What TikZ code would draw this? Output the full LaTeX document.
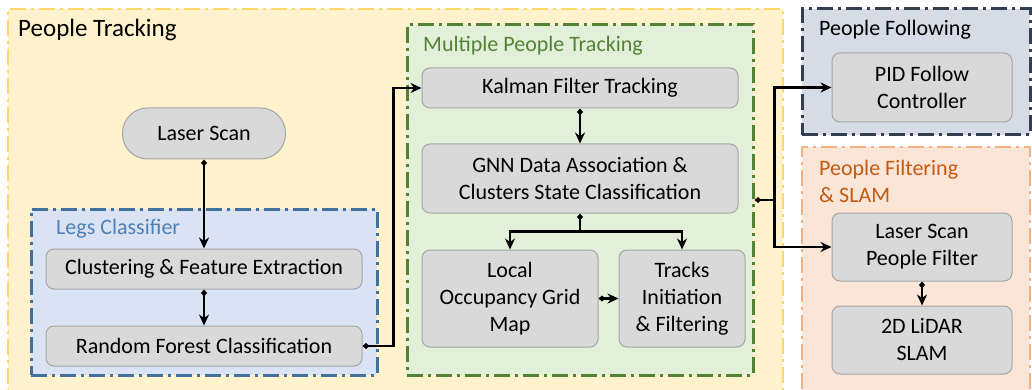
\documentclass[tikz,border=0pt]{standalone}
\usepackage{fontspec}
\setmainfont{Carlito}
\usetikzlibrary{arrows.meta}
\definecolor{jaune}{HTML}{FFF2CC}
\definecolor{jauneb}{HTML}{FFD966}
\definecolor{bleu}{HTML}{DAE3F3}
\definecolor{bleub}{HTML}{41719C}
\definecolor{bleut}{HTML}{4E80B6}
\definecolor{vert}{HTML}{E2F0D9}
\definecolor{vertb}{HTML}{548235}
\definecolor{ardoise}{HTML}{D6DCE5}
\definecolor{ardoiseb}{HTML}{333F50}
\definecolor{saumon}{HTML}{FBE5D6}
\definecolor{saumonb}{HTML}{F4B183}
\definecolor{orange}{HTML}{C55A11}
\definecolor{grisbloc}{HTML}{D9D9D9}
\definecolor{grisbord}{HTML}{A6A6A6}
\begin{document}
\begin{tikzpicture}[x=1pt,y=-1pt]  % une unite = un pixel
\tikzstyle{bloc}=[draw=grisbord, fill=grisbloc, rounded corners=8pt, line width=1pt, align=center, inner sep=2pt, font=\fontsize{22}{27}\selectfont]
\tikzstyle{groupe}=[rectangle, inner sep=0pt, line width=3pt, dash pattern=on 16pt off 5pt on 3pt off 5pt] % cadres en tirets-points
\tikzstyle{titre}=[anchor=base west, inner sep=0pt, align=left, font=\fontsize{22}{27}\selectfont]
\tikzstyle{lien}=[line width=2.5pt, {Diamond[length=7pt,width=6pt]}-{Stealth[length=11pt,width=10pt]}]
\useasboundingbox (0,0) rectangle (1032,390);
% les groupes
\node[groupe, draw=jauneb, fill=jaune, line width=2pt, minimum width=775pt, minimum height=382pt] (pt) at (395.5,200) {};
\node[groupe, draw=bleub, fill=bleu, minimum width=346pt, minimum height=166pt] (lc) at (204,292) {};
\node[groupe, draw=vertb, fill=vert, minimum width=346pt, minimum height=350pt] (mpt) at (580,200) {};
\node[groupe, draw=ardoiseb, fill=ardoise, minimum width=228pt, minimum height=126pt] (pf) at (916,72) {};
\node[groupe, draw=saumonb, fill=saumon, line width=2pt, minimum width=228pt, minimum height=246pt] (pfs) at (916,270) {};
% les titres
\node[titre, font=\fontsize{25}{30}\selectfont] (tpt) at (18,37) {People Tracking};
\node[titre, text=bleut] (tlc) at (56,234) {Legs Classifier};
\node[titre, text=vertb] (tmpt) at (423,52) {Multiple People Tracking};
\node[titre] (tpf) at (819,36) {People Following};
\node[titre, text=orange] (tpfs) at (819,202) {People Filtering\\\& SLAM}; % base = derniere ligne
% les blocs
\node[bloc, rounded corners=25pt, minimum width=163pt, minimum height=51pt] (scan) at (204,133.5) {Laser Scan};
\node[bloc, minimum width=316pt, minimum height=40pt] (clust) at (204,269) {Clustering \& Feature Extraction};
\node[bloc, minimum width=316pt, minimum height=40pt] (rf) at (204,346) {Random Forest Classification};
\node[bloc, minimum width=316pt, minimum height=40pt] (kal) at (580,88) {Kalman Filter Tracking};
\node[bloc, minimum width=316pt, minimum height=69pt] (gnn) at (580,178.5) {GNN Data Association \&\\Clusters State Classification};
\node[bloc, minimum width=176pt, minimum height=97pt] (occ) at (510,298.5) {Local\\Occupancy Grid\\Map};
\node[bloc, minimum width=126pt, minimum height=97pt] (trk) at (682,298.5) {Tracks\\Initiation\\\& Filtering};
\node[bloc, minimum width=180pt, minimum height=69pt] (pid) at (922,87.5) {PID Follow\\Controller};
\node[bloc, minimum width=180pt, minimum height=68pt] (lspf) at (922,247) {Laser Scan\\People Filter};
\node[bloc, minimum width=180pt, minimum height=68pt] (slam) at (922,340) {2D LiDAR\\SLAM};
% les liaisons
\draw[lien] (scan) -- (clust);
\draw[lien] (clust) -- (rf);
\draw[lien] (rf.east) -- ++(31,0) |- (kal.west);
\draw[lien] (kal) -- (gnn);
\draw[lien] (gnn.south) -- ++(0,18) coordinate (fourche) -| (occ.north);
\draw[lien, -{Stealth[length=11pt,width=10pt]}] (fourche) -| (trk.north);
\draw[lien] (occ) -- (trk);
\draw[lien] (mpt.east) -- ++(20,0) coordinate (relais) |- (pid.west);
\draw[lien, -{Stealth[length=11pt,width=10pt]}] (relais) |- (lspf.west);
\draw[lien] (lspf) -- (slam);
\end{tikzpicture}
\end{document}
